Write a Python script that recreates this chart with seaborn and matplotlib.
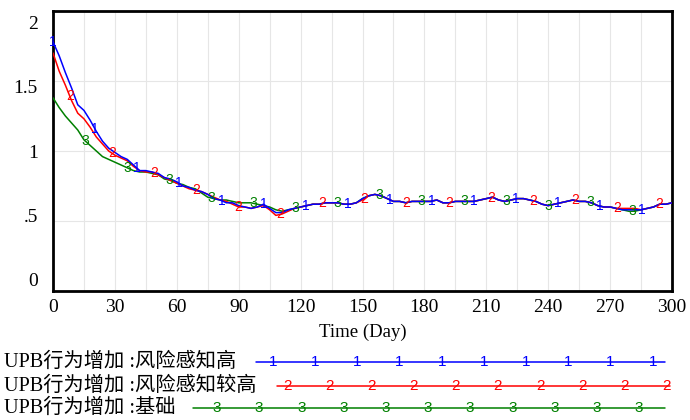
import numpy as np
import pandas as pd
import matplotlib
matplotlib.use("Agg")
import matplotlib.pyplot as plt
import seaborn as sns

# Simulation output sampled every 3 days (day 0 .. 300)
days = np.arange(0, 301, 3)

high_risk = [  # 1: UPB行为增加 : 风险感知高
    1.78, 1.68, 1.56, 1.45, 1.33, 1.29, 1.22, 1.14, 1.07, 1.02,
    0.99, 0.96, 0.94, 0.90, 0.86, 0.86, 0.85, 0.84, 0.81, 0.80,
    0.78, 0.75, 0.74, 0.72, 0.71, 0.69, 0.66, 0.65, 0.63, 0.63,
    0.61, 0.60, 0.59, 0.60, 0.62, 0.59, 0.56, 0.56, 0.58, 0.59,
    0.60, 0.61, 0.62, 0.62, 0.63, 0.63, 0.63, 0.62, 0.62, 0.63,
    0.66, 0.68, 0.69, 0.68, 0.66, 0.64, 0.64, 0.63, 0.64, 0.64,
    0.64, 0.64, 0.65, 0.63, 0.63, 0.64, 0.64, 0.64, 0.64, 0.65,
    0.66, 0.67, 0.65, 0.64, 0.65, 0.66, 0.66, 0.65, 0.64, 0.62,
    0.61, 0.62, 0.63, 0.64, 0.65, 0.64, 0.64, 0.63, 0.61, 0.60,
    0.60, 0.59, 0.58, 0.58, 0.58, 0.58, 0.59, 0.60, 0.62, 0.62,
    0.63,
]
higher_risk = [  # 2: UPB行为增加 : 风险感知较高
    1.70, 1.57, 1.47, 1.36, 1.27, 1.23, 1.17, 1.10, 1.05, 1.00,
    0.97, 0.95, 0.93, 0.89, 0.86, 0.85, 0.85, 0.83, 0.81, 0.79,
    0.77, 0.75, 0.73, 0.72, 0.71, 0.69, 0.67, 0.65, 0.64, 0.62,
    0.60, 0.60, 0.59, 0.60, 0.61, 0.58, 0.54, 0.55, 0.57, 0.59,
    0.60, 0.61, 0.62, 0.62, 0.63, 0.63, 0.63, 0.62, 0.62, 0.63,
    0.65, 0.68, 0.69, 0.68, 0.66, 0.64, 0.64, 0.63, 0.64, 0.64,
    0.64, 0.64, 0.65, 0.63, 0.63, 0.64, 0.64, 0.64, 0.64, 0.65,
    0.66, 0.67, 0.65, 0.64, 0.65, 0.66, 0.66, 0.65, 0.64, 0.62,
    0.61, 0.62, 0.63, 0.64, 0.65, 0.64, 0.64, 0.63, 0.61, 0.60,
    0.60, 0.59, 0.59, 0.59, 0.59, 0.58, 0.59, 0.60, 0.62, 0.62,
    0.63,
]
baseline = [  # 3: UPB行为增加 : 基础
    1.38, 1.31, 1.25, 1.20, 1.15, 1.08, 1.04, 1.00, 0.96, 0.94,
    0.92, 0.90, 0.88, 0.86, 0.85, 0.85, 0.84, 0.83, 0.80, 0.79,
    0.77, 0.76, 0.74, 0.73, 0.70, 0.67, 0.66, 0.65, 0.65, 0.64,
    0.63, 0.63, 0.63, 0.62, 0.61, 0.60, 0.58, 0.57, 0.58, 0.59,
    0.60, 0.61, 0.62, 0.62, 0.63, 0.63, 0.63, 0.62, 0.62, 0.63,
    0.66, 0.68, 0.69, 0.68, 0.66, 0.64, 0.64, 0.63, 0.64, 0.64,
    0.64, 0.64, 0.65, 0.63, 0.63, 0.64, 0.64, 0.64, 0.64, 0.65,
    0.66, 0.67, 0.65, 0.64, 0.65, 0.66, 0.66, 0.65, 0.64, 0.62,
    0.61, 0.62, 0.63, 0.64, 0.65, 0.64, 0.64, 0.63, 0.61, 0.60,
    0.60, 0.59, 0.58, 0.57, 0.57, 0.58, 0.59, 0.60, 0.62, 0.62,
    0.63,
]

series_ids = ["1", "2", "3"]
series_labels = ["UPB行为增加 :风险感知高", "UPB行为增加 :风险感知较高", "UPB行为增加 :基础"]
series_colors = {"1": "#0000ff", "2": "#ff0000", "3": "#008000"}
x_ticks = list(range(0, 301, 30))
y_ticks = [0, 0.5, 1, 1.5, 2]
y_tick_labels = ["0", ".5", "1", "1.5", "2"]

values = {"1": high_risk, "2": higher_risk, "3": baseline}
df = pd.concat(
    [pd.DataFrame({"day": days, "value": values[s], "series": s}) for s in series_ids],
    ignore_index=True,
)

sns.set_theme(style="white")
plt.rcParams["font.family"] = ["Liberation Serif", "Noto Sans CJK SC"]

fig = plt.figure(figsize=(6.9, 4.2), dpi=100)
ax = fig.add_axes([53 / 690, 1 - 291 / 420, 619 / 690, 280 / 420])

# light grid: every 15 days, every 0.5 units
for gx in range(15, 300, 15):
    ax.axvline(gx, color="#e6e6e6", lw=0.8, zorder=0)
for gy in [0.5, 1.0, 1.5]:
    ax.axhline(gy, color="#e6e6e6", lw=0.8, zorder=0)

sns.lineplot(
    data=df, x="day", y="value", hue="series", hue_order=["3", "2", "1"],
    palette=series_colors, legend=False, lw=1.1, ax=ax, zorder=3,
)

# numbered markers along each curve
spacing = 20.4
offsets = {"1": 0.0, "2": 8.2, "3": 15.5}
for s in series_ids:
    tk = np.arange(offsets[s], 300.01, spacing)
    yk = np.interp(tk, days, values[s])
    for t, v in zip(tk, yk):
        ax.text(t, v, s, color=series_colors[s], fontsize=10, family="Liberation Sans",
                ha="center", va="center", zorder=4, clip_on=False)

ax.set_xlim(0, 300)
ax.set_ylim(0, 2)
ax.set_xticks(x_ticks)
ax.set_xticklabels([str(v) for v in x_ticks])
# value labels are spread slightly inward, as the simulation tool lays them out
ax.set_yticks([1 + (v - 1) * 0.915 for v in y_ticks])
ax.set_yticklabels(y_tick_labels)
ax.tick_params(axis="both", length=0, labelsize=14, colors="black")
ax.tick_params(axis="y", pad=11)
ax.tick_params(axis="x", pad=6)
ax.set_xlabel("Time (Day)", fontsize=13.5, labelpad=5, color="black")
ax.set_ylabel("")
for sp in ax.spines.values():
    sp.set_visible(True)
    sp.set_color("black")
    sp.set_linewidth(2.0)

# legend rows under the chart, in pixel coordinates
lg = fig.add_axes([0, 0, 1, 1], zorder=-1)
lg.set_xlim(0, 690)
lg.set_ylim(420, 0)
lg.axis("off")
rows = [
    ("1", 362, 256, 665, 273, 10),
    ("2", 386, 277, 670, 287, 10),
    ("3", 408, 193, 665, 217, 11),
]
for (s, y, x0, x1, m0, n), label in zip(rows, series_labels):
    lg.text(4, y, label, fontsize=14.6, ha="left", va="center", color="black")
    lg.plot([x0, x1], [y, y], color=series_colors[s], lw=1.1)
    for k in range(n):
        lg.text(m0 + 42.2 * k, y, s, color=series_colors[s], fontsize=11,
                family="Liberation Sans", ha="center", va="center")

fig.savefig("out.png", dpi=100)
